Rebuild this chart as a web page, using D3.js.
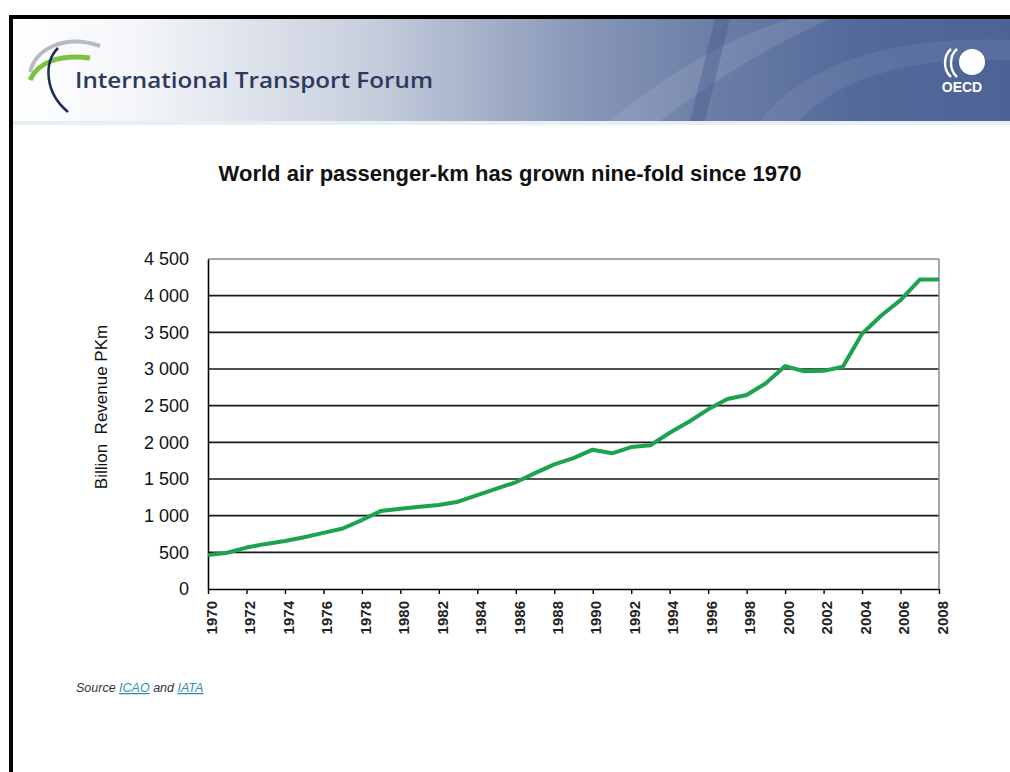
<!DOCTYPE html>
<html>
<head>
<meta charset="utf-8">
<script src="https://cdn.jsdelivr.net/npm/d3@7"></script>
<style>
  html, body { margin: 0; padding: 0; background: #fff; }
  svg { display: block; }
</style>
</head>
<body>
<svg id="chart" width="1010" height="772"></svg>
<script>
// ---- data ----
const years = [1970,1971,1972,1973,1974,1975,1976,1977,1978,1979,
               1980,1981,1982,1983,1984,1985,1986,1987,1988,1989,
               1990,1991,1992,1993,1994,1995,1996,1997,1998,1999,
               2000,2001,2002,2003,2004,2005,2006,2007,2008];
const pkm = [462,495,565,615,655,705,765,825,940,1065,
             1095,1123,1145,1190,1280,1370,1455,1580,1700,1785,
             1900,1850,1935,1960,2130,2280,2450,2590,2645,2805,
             3040,2970,2975,3030,3480,3730,3940,4220,4220];
const yTicks = [0,500,1000,1500,2000,2500,3000,3500,4000,4500];
const xTickYears = [1970,1972,1974,1976,1978,1980,1982,1984,1986,1988,1990,
                    1992,1994,1996,1998,2000,2002,2004,2006,2008];
const titleText = "World air passenger-km has grown nine-fold since 1970";
const yTitle = "Billion  Revenue PKm";
const headerText = "International Transport Forum";

const svg = d3.select("#chart");

// ---- header banner ----
const defs = svg.append("defs");
const bg = defs.append("linearGradient").attr("id","bannerGrad").attr("x1","0").attr("x2","1").attr("y1","0").attr("y2","0");
[[0,"#ffffff"],[0.12,"#f4f6f9"],[0.35,"#c9d0de"],[0.55,"#8e9cbb"],[0.7,"#6b7ea6"],[0.85,"#53699a"],[1,"#4d6396"]]
  .forEach(([o,c]) => bg.append("stop").attr("offset",o).attr("stop-color",c));
svg.append("rect").attr("x",13).attr("y",19).attr("width",997).attr("height",102).attr("fill","url(#bannerGrad)");
// light streaks
svg.append("path").attr("d","M610,121 C660,80 720,40 790,19 L830,19 C760,50 700,90 660,121 Z").attr("fill","#ffffff").attr("opacity",0.10);
svg.append("path").attr("d","M690,121 L715,19 L730,19 L705,121 Z").attr("fill","#3f5386").attr("opacity",0.35);
svg.append("path").attr("d","M760,121 C800,70 880,35 1010,40 L1010,60 C900,55 830,85 800,121 Z").attr("fill","#ffffff").attr("opacity",0.07);
svg.append("rect").attr("x",13).attr("y",121).attr("width",997).attr("height",4).attr("fill","#e6f0f4");

// ITF logo swoosh
svg.append("path").attr("d","M30,72 C36,48 66,34 100,46").attr("fill","none").attr("stroke","#b8bcc2").attr("stroke-width",4);
svg.append("path").attr("d","M30,80 C38,62 60,54 90,58").attr("fill","none").attr("stroke","#7cc242").attr("stroke-width",5);
svg.append("path").attr("d","M58,48 C44,62 44,92 68,112").attr("fill","none").attr("stroke","#1e2b55").attr("stroke-width",2.5);
svg.append("text").attr("x",75).attr("y",88).attr("font-family","'Open Sans', sans-serif")
  .attr("font-size",22).attr("font-weight",600).attr("fill","#2d3a5e")
  .attr("textLength",358).attr("lengthAdjust","spacingAndGlyphs").text(headerText);

// OECD logo
svg.append("circle").attr("cx",972).attr("cy",62).attr("r",13).attr("fill","#ffffff");
["M951,49 C943,56 943,70 951,77","M957,49 C949,56 949,70 957,77"].forEach(d=>{
  svg.append("path").attr("d",d).attr("fill","none").attr("stroke","#ffffff").attr("stroke-width",2.4);
});
svg.append("text").attr("x",962).attr("y",92).attr("text-anchor","middle").attr("font-family","'Liberation Sans', Arial, sans-serif")
  .attr("font-size",14).attr("font-weight","bold").attr("fill","#ffffff").text("OECD");

// frame borders
svg.append("rect").attr("x",9).attr("y",15).attr("width",1001).attr("height",4).attr("fill","#000");
svg.append("rect").attr("x",9).attr("y",15).attr("width",4).attr("height",757).attr("fill","#000");

// ---- title ----
svg.append("text").attr("x",510).attr("y",181).attr("text-anchor","middle")
  .attr("font-family","'Liberation Sans', Arial, sans-serif").attr("font-size",22).attr("font-weight","bold")
  .attr("fill","#111").text(titleText);

// ---- chart ----
const L = 208, R = 939, T = 259, B = 589;
const x = d3.scaleLinear().domain([1970, 2008]).range([L, R]);
const y = d3.scaleLinear().domain([0, 4500]).range([B, T]);
const loc = d3.formatLocale({decimal: ".", thousands: " ", grouping: [3], currency: ["", ""]});
const fmt = loc.format(",");

const g = svg.append("g");
// gridlines
g.selectAll("line.grid").data(yTicks.filter(v => v > 0 && v < 4500)).join("line")
  .attr("x1", L).attr("x2", R).attr("y1", d => y(d)).attr("y2", d => y(d))
  .attr("stroke", "#1a1a1a").attr("stroke-width", 1.6);
// top & right border gray
g.append("line").attr("x1", L).attr("x2", R).attr("y1", y(4500)).attr("y2", y(4500)).attr("stroke", "#8a8a8a").attr("stroke-width", 1.5);
g.append("line").attr("x1", R).attr("x2", R).attr("y1", T).attr("y2", B).attr("stroke", "#8a8a8a").attr("stroke-width", 1.5);

// y axis
const yAxis = d3.axisLeft(y).tickValues(yTicks).tickFormat(fmt).tickSize(0).tickPadding(19);
const ya = svg.append("g").attr("transform", `translate(${L},0)`).call(yAxis);
ya.select(".domain").attr("stroke", "#000").attr("stroke-width", 1.6);
ya.selectAll("text").attr("font-family", "'Liberation Sans', Arial, sans-serif").attr("font-size", 18).attr("fill", "#111");

// x axis
const xAxis = d3.axisBottom(x).tickValues(xTickYears).tickFormat(d3.format("d")).tickSize(5).tickSizeOuter(0);
const xa = svg.append("g").attr("transform", `translate(0,${B})`).call(xAxis);
xa.select(".domain").attr("stroke", "#000").attr("stroke-width", 1.6);
xa.selectAll(".tick line").attr("stroke", "#000").attr("stroke-width", 1.4);
xa.selectAll("text")
  .attr("font-family", "'Liberation Sans', Arial, sans-serif").attr("font-size", 15).attr("font-weight", "bold").attr("fill", "#222")
  .attr("transform", "rotate(-90)").attr("text-anchor", "end")
  .attr("x", -12).attr("y", 3).attr("dy", "0.35em");

// y title
svg.append("text").attr("transform", "translate(107,407) rotate(-90)").attr("text-anchor", "middle")
  .attr("font-family", "'Liberation Sans', Arial, sans-serif").attr("font-size", 17).attr("fill", "#111")
  .style("white-space", "pre").attr("xml:space", "preserve").text(yTitle);

// line
const line = d3.line().x((d, i) => x(years[i])).y(d => y(d));
svg.append("path").datum(pkm).attr("d", line).attr("fill", "none")
  .attr("stroke", "#1da24f").attr("stroke-width", 4).attr("stroke-linejoin", "round");

// source
const src = svg.append("text").attr("x", 76).attr("y", 692)
  .attr("font-family", "'Liberation Sans', Arial, sans-serif").attr("font-size", 12.5).attr("font-style", "italic").attr("fill", "#333");
src.append("tspan").text("Source ");
src.append("tspan").attr("fill", "#2f8fb0").attr("text-decoration", "underline").text("ICAO");
src.append("tspan").text(" and ");
src.append("tspan").attr("fill", "#2f8fb0").attr("text-decoration", "underline").text("IATA");
</script>
</body>
</html>
